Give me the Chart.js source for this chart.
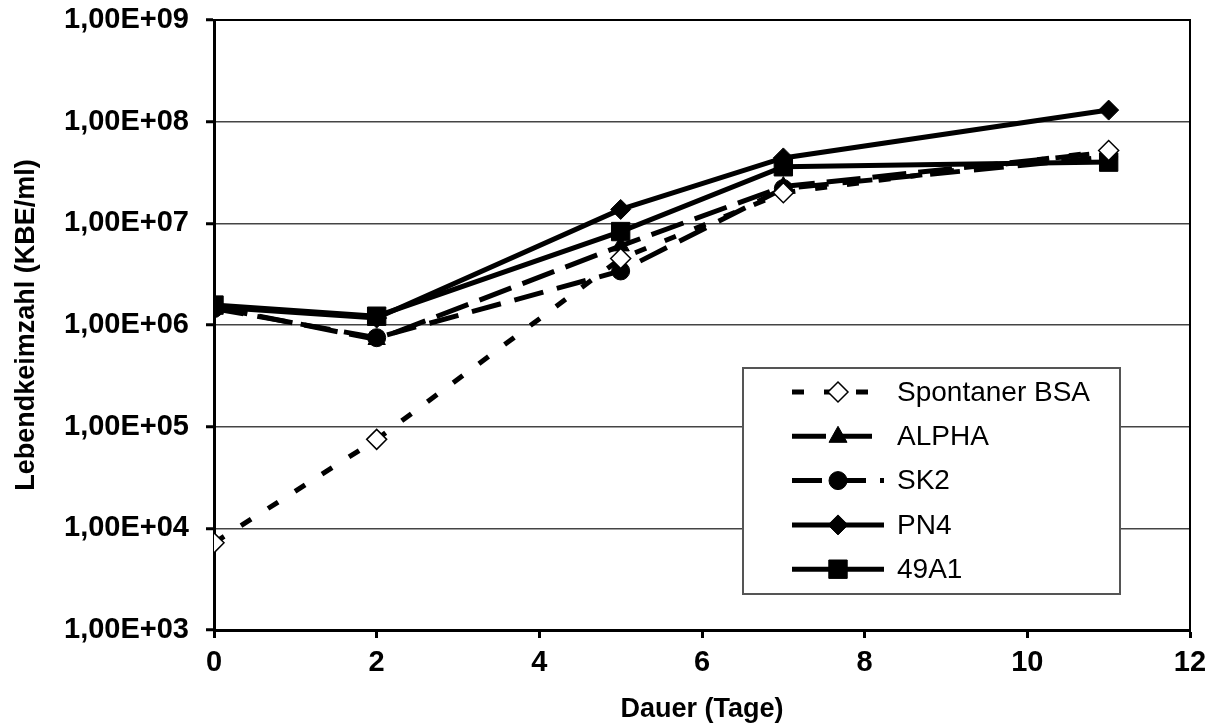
<!DOCTYPE html>
<html>
<head>
<meta charset="utf-8">
<script src="https://cdn.jsdelivr.net/npm/chart.js@4.4.1/dist/chart.umd.min.js"></script>
<style>
  html, body { margin: 0; padding: 0; background: #fff; }
  #wrap { width: 1219px; height: 726px; }
</style>
</head>
<body>
<div id="wrap"><canvas id="chart" width="1219" height="726"></canvas></div>
<script>
// Lebendkeimzahl im Verlauf der Lagerung (log-Skala)
const days = [0, 2, 5, 7, 11];
const spontanerBSA = [7.2e3, 7.5e4, 4.5e6, 2.0e7, 5.2e7];
const alpha = [1.5e6, 7.2e5, 6.0e6, 2.3e7, 5.0e7];
const sk2 = [1.45e6, 7.5e5, 3.4e6, 2.2e7, 4.5e7];
const pn4 = [1.5e6, 1.17e6, 1.37e7, 4.4e7, 1.3e8];
const a49a1 = [1.57e6, 1.22e6, 8.3e6, 3.6e7, 4.0e7];

const yTickValues = [1e3, 1e4, 1e5, 1e6, 1e7, 1e8, 1e9];
const yTickLabels = ['1,00E+03', '1,00E+04', '1,00E+05', '1,00E+06', '1,00E+07', '1,00E+08', '1,00E+09'];
const xTickValues = [0, 2, 4, 6, 8, 10, 12];

function toPoints(values) {
    return values.map((v, i) => ({ x: days[i], y: v }));
}

const series = [
    { label: 'Spontaner BSA', values: spontanerBSA, dash: [12, 20], marker: 'rectRot', radius: 10, fill: '#ffffff', border: 1.5 },
    { label: 'ALPHA', values: alpha, dash: [34, 12], marker: 'triangle', radius: 10, fill: '#000000', border: 1 },
    { label: 'SK2', values: sk2, dash: [30, 14], marker: 'circle', radius: 9, fill: '#000000', border: 1 },
    { label: 'PN4', values: pn4, dash: [], marker: 'rectRot', radius: 10, fill: '#000000', border: 1 },
    { label: '49A1', values: a49a1, dash: [], marker: 'rect', radius: 13, fill: '#000000', border: 1 }
];

function drawMarkerPath(ctx, style, r, x, y) {
    if (style === 'circle') {
        ctx.arc(x, y, r, 0, Math.PI * 2);
    } else if (style === 'rect') {
        const s = r * Math.SQRT1_2;
        ctx.rect(x - s, y - s, 2 * s, 2 * s);
    } else if (style === 'rectRot') {
        ctx.moveTo(x, y - r); ctx.lineTo(x + r, y); ctx.lineTo(x, y + r); ctx.lineTo(x - r, y); ctx.closePath();
    } else if (style === 'triangle') {
        ctx.moveTo(x, y - r); ctx.lineTo(x + r * 0.9, y + r * 0.6); ctx.lineTo(x - r * 0.9, y + r * 0.6); ctx.closePath();
    }
}

// Legende innerhalb der Zeichenfläche + Rahmen rechts/oben
const plotExtras = {
    id: 'plotExtras',
    beforeDatasetsDraw(chart) {
        const { ctx, chartArea: a } = chart;
        ctx.save();
        ctx.strokeStyle = '#000';
        ctx.lineWidth = 2;
        ctx.beginPath();
        ctx.moveTo(a.left, a.top);
        ctx.lineTo(a.right, a.top);
        ctx.lineTo(a.right, a.bottom);
        ctx.stroke();
        ctx.restore();
    },
    afterDatasetsDraw(chart) {
        const { ctx } = chart;
        const bx = 743, by = 368, bw = 377, bh = 226;
        ctx.save();
        ctx.fillStyle = '#fff';
        ctx.fillRect(bx, by, bw, bh);
        ctx.strokeStyle = '#555';
        ctx.lineWidth = 2;
        ctx.strokeRect(bx, by, bw, bh);

        ctx.font = '28px "Liberation Sans", Arial, sans-serif';
        ctx.textBaseline = 'middle';
        chart.data.datasets.forEach((ds, i) => {
            const y = 392 + i * 44.3;
            ctx.strokeStyle = '#000';
            ctx.lineWidth = 5;
            ctx.setLineDash(ds.borderDash || []);
            ctx.beginPath();
            ctx.moveTo(792, y);
            ctx.lineTo(884, y);
            ctx.stroke();
            ctx.setLineDash([]);
            ctx.fillStyle = ds.pointBackgroundColor;
            ctx.strokeStyle = '#000';
            ctx.lineWidth = ds.pointBorderWidth;
            ctx.beginPath();
            drawMarkerPath(ctx, ds.pointStyle, ds.pointRadius, 838, y);
            ctx.fill();
            ctx.stroke();
            ctx.fillStyle = '#000';
            ctx.fillText(ds.label, 897, y + 1);
        });
        ctx.restore();
    }
};

const fontFamily = '"Liberation Sans", Arial, sans-serif';
const tickFont = { family: fontFamily, size: 29, weight: 'bold' };
const titleFont = { family: fontFamily, size: 27, weight: 'bold' };

new Chart(document.getElementById('chart'), {
    type: 'line',
    data: {
        datasets: series.map(s => ({
            label: s.label,
            data: toPoints(s.values),
            borderColor: '#000',
            borderWidth: 5,
            borderDash: s.dash,
            borderCapStyle: 'butt',
            tension: 0,
            pointStyle: s.marker,
            pointRadius: s.radius,
            pointHoverRadius: s.radius,
            pointBackgroundColor: s.fill,
            pointBorderColor: '#000',
            pointBorderWidth: s.border
        }))
    },
    options: {
        responsive: false,
        animation: false,
        events: [],
        layout: { padding: { left: 0, right: 29, top: 20, bottom: 0 } },
        plugins: {
            legend: { display: false },
            tooltip: { enabled: false }
        },
        scales: {
            x: {
                type: 'linear',
                min: 0,
                max: 12,
                afterBuildTicks(scale) {
                    scale.ticks = xTickValues.map(v => ({ value: v }));
                },
                afterFit(scale) {
                    scale.height = 96;
                    scale.paddingLeft = 0;
                    scale.paddingRight = 0;
                },
                border: { color: '#000', width: 3 },
                grid: { drawOnChartArea: false, drawTicks: true, tickLength: 8, tickColor: '#000', tickWidth: 3 },
                ticks: { color: '#000', font: tickFont, padding: 8, maxRotation: 0 },
                title: {
                    display: true,
                    text: 'Dauer (Tage)',
                    color: '#000',
                    font: titleFont,
                    padding: { top: 0, bottom: 0 }
                }
            },
            y: {
                type: 'logarithmic',
                min: 1e3,
                max: 1e9,
                afterBuildTicks(scale) {
                    scale.ticks = yTickValues.map(v => ({ value: v, major: true }));
                },
                afterFit(scale) {
                    scale.width = 214;
                    scale.paddingTop = 0;
                    scale.paddingBottom = 0;
                },
                border: { color: '#000', width: 3 },
                grid: { color: '#444', lineWidth: 1.5, drawTicks: true, tickLength: 8, tickColor: '#000', tickWidth: 3 },
                ticks: {
                    color: '#000',
                    font: tickFont,
                    padding: 17,
                    callback: (value) => {
                        const idx = yTickValues.findIndex(v => Math.abs(v - value) / v < 1e-6);
                        return idx >= 0 ? yTickLabels[idx] : '';
                    }
                },
                title: {
                    display: true,
                    text: 'Lebendkeimzahl (KBE/ml)',
                    color: '#000',
                    font: titleFont,
                    padding: { top: 10, bottom: 0 }
                }
            }
        }
    },
    plugins: [plotExtras]
});
</script>
</body>
</html>
